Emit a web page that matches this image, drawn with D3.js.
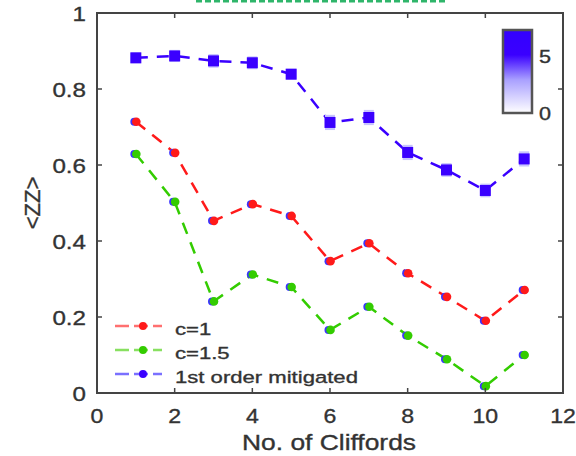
<!DOCTYPE html>
<html>
<head>
<meta charset="utf-8">
<script src="https://cdn.jsdelivr.net/npm/d3@7"></script>
<style>
  body { margin: 0; background: #fff; }
  text { font-family: "Liberation Sans", Arial, sans-serif; fill: #333; stroke: #333; stroke-width: 0.35; }
</style>
</head>
<body>
<div id="chart"></div>
<script>
// data
var cliffords = [1, 2, 3, 4, 5, 6, 7, 8, 9, 10, 11];
var zzC1 = [0.714, 0.632, 0.453, 0.497, 0.466, 0.347, 0.394, 0.315, 0.253, 0.190, 0.271];
var zzC15 = [0.629, 0.503, 0.241, 0.312, 0.279, 0.166, 0.227, 0.151, 0.089, 0.018, 0.100];
var zzMitigated = [0.882, 0.887, 0.874, 0.869, 0.839, 0.712, 0.725, 0.633, 0.587, 0.533, 0.616];
var mitigatedSpread = [0.014, 0.016, 0.018, 0.017, 0.014, 0.02, 0.02, 0.02, 0.018, 0.018, 0.02];
var xTicks = [0, 2, 4, 6, 8, 10, 12];
var yTicks = [0, 0.2, 0.4, 0.6, 0.8, 1];
var cbarTicks = [0, 5];
var seriesNames = ["c=1", "c=1.5", "1st order mitigated"];

var width = 576, height = 456;
var svg = d3.select("#chart").append("svg")
  .attr("width", width).attr("height", height);

var x = d3.scaleLinear().domain([0, 12]).range([97, 563]);
var y = d3.scaleLinear().domain([0, 1]).range([393, 13]);

// the picture is a bit stretched sideways, so the text is too
function label(px, py, str, size, anchor, sx) {
  return svg.append("g")
    .attr("transform", "translate(" + px + "," + py + ") scale(" + sx + ",1)")
    .append("text")
    .attr("text-anchor", anchor || "start")
    .attr("font-size", size)
    .text(str);
}

// cut-off green thing at the very top
svg.append("line")
  .attr("x1", 196).attr("x2", 447).attr("y1", 1).attr("y2", 1)
  .attr("stroke", "#2fb56a").attr("stroke-width", 3)
  .attr("stroke-dasharray", "6,3");

// series lines
var line = d3.line()
  .x(function (d) { return x(d[0]) })
  .y(function (d) { return y(d[1]) });

function pairs(vals) {
  return cliffords.map(function (c, i) { return [c, vals[i]] });
}

var series = [
  { vals: zzC1, color: "#ff1a1a", light: "#ff7070" },
  { vals: zzC15, color: "#33cc00", light: "#88e060" },
  { vals: zzMitigated, color: "#3a00ff", light: "#7a70ff" }
];

series.forEach(function (s) {
  svg.append("path")
    .datum(pairs(s.vals))
    .attr("d", line)
    .attr("fill", "none")
    .attr("stroke", s.color)
    .attr("stroke-width", 2.5)
    .attr("stroke-dasharray", "12,9");
});

// faint error shading on mitigated points
svg.selectAll(".err")
  .data(pairs(zzMitigated))
  .enter().append("rect")
  .attr("class", "err")
  .attr("x", function (d) { return x(d[0]) - 5 })
  .attr("width", 10)
  .attr("y", function (d, i) { return y(d[1] + mitigatedSpread[i]) })
  .attr("height", function (d, i) { return y(d[1] - mitigatedSpread[i]) - y(d[1] + mitigatedSpread[i]) })
  .attr("fill", "#c8c4ff");

svg.selectAll(".sq")
  .data(pairs(zzMitigated))
  .enter().append("rect")
  .attr("class", "sq")
  .attr("x", function (d) { return x(d[0]) - 5.5 })
  .attr("y", function (d) { return y(d[1]) - 5.5 })
  .attr("width", 11).attr("height", 11)
  .attr("fill", "#3a00ff");

// red/green dots with a blue rim on the left
[series[0], series[1]].forEach(function (s) {
  var g = svg.append("g");
  g.selectAll(".rim").data(pairs(s.vals)).enter().append("circle")
    .attr("cx", function (d) { return x(d[0]) - 1.5 })
    .attr("cy", function (d) { return y(d[1]) })
    .attr("r", 4).attr("fill", "#3a33ff");
  g.selectAll(".dot").data(pairs(s.vals)).enter().append("circle")
    .attr("cx", function (d) { return x(d[0]) + 0.5 })
    .attr("cy", function (d) { return y(d[1]) })
    .attr("r", 4.3).attr("fill", s.color);
});

// axes box
var axisColor = "#444";
var frame = svg.append("g");
frame.append("rect")
  .attr("x", x(0)).attr("y", y(1))
  .attr("width", x(12) - x(0)).attr("height", y(0) - y(1))
  .attr("fill", "none").attr("stroke", axisColor).attr("stroke-width", 2);

xTicks.forEach(function (t) {
  frame.append("line").attr("x1", x(t)).attr("x2", x(t))
    .attr("y1", y(0)).attr("y2", y(0) - 5).attr("stroke", axisColor).attr("stroke-width", 1.5);
  frame.append("line").attr("x1", x(t)).attr("x2", x(t))
    .attr("y1", y(1)).attr("y2", y(1) + 5).attr("stroke", axisColor).attr("stroke-width", 1.5);
  label(x(t), 423, t, 21, "middle", 1.1);
});

yTicks.forEach(function (t) {
  frame.append("line").attr("x1", x(0)).attr("x2", x(0) + 5)
    .attr("y1", y(t)).attr("y2", y(t)).attr("stroke", axisColor).attr("stroke-width", 1.5);
  frame.append("line").attr("x1", x(12)).attr("x2", x(12) - 5)
    .attr("y1", y(t)).attr("y2", y(t)).attr("stroke", axisColor).attr("stroke-width", 1.5);
  label(86, y(t) + 8, t, 21, "end", 1.15);
});

label(329, 450, "No. of Cliffords", 22, "middle", 1.2);
svg.append("g")
  .attr("transform", "translate(40,203) rotate(-90)")
  .append("text")
  .attr("text-anchor", "middle").attr("font-size", 22).text("<ZZ>");

// colour bar
var cb = d3.scaleLinear().domain([0, 7.3]).range([113, 30]);
var defs = svg.append("defs");
var grad = defs.append("linearGradient").attr("id", "cbar")
  .attr("x1", 0).attr("x2", 0).attr("y1", 1).attr("y2", 0);
grad.append("stop").attr("offset", "0%").attr("stop-color", "#ffffff");
grad.append("stop").attr("offset", "40%").attr("stop-color", "#a9a0ff");
grad.append("stop").attr("offset", "70%").attr("stop-color", "#3a00ff");
grad.append("stop").attr("offset", "100%").attr("stop-color", "#3300ff");
svg.append("rect")
  .attr("x", 503).attr("y", cb(7.3))
  .attr("width", 29).attr("height", cb(0) - cb(7.3))
  .attr("fill", "url(#cbar)").attr("stroke", "#555").attr("stroke-width", 2.5);
cbarTicks.forEach(function (t) {
  label(539, cb(t) + 7, t, 18, "start", 1.2);
});

// legend
var legY = [326, 350, 374];
series.forEach(function (s, i) {
  svg.append("line").attr("x1", 115).attr("x2", 162)
    .attr("y1", legY[i]).attr("y2", legY[i])
    .attr("stroke", s.light).attr("stroke-width", 2.5)
    .attr("stroke-dasharray", "14,5");
  svg.append("circle").attr("cx", 143).attr("cy", legY[i]).attr("r", 4)
    .attr("fill", s.color);
  label(175, legY[i] + 8.5, seriesNames[i], 17, "start", 1.3);
});
</script>
</body>
</html>
